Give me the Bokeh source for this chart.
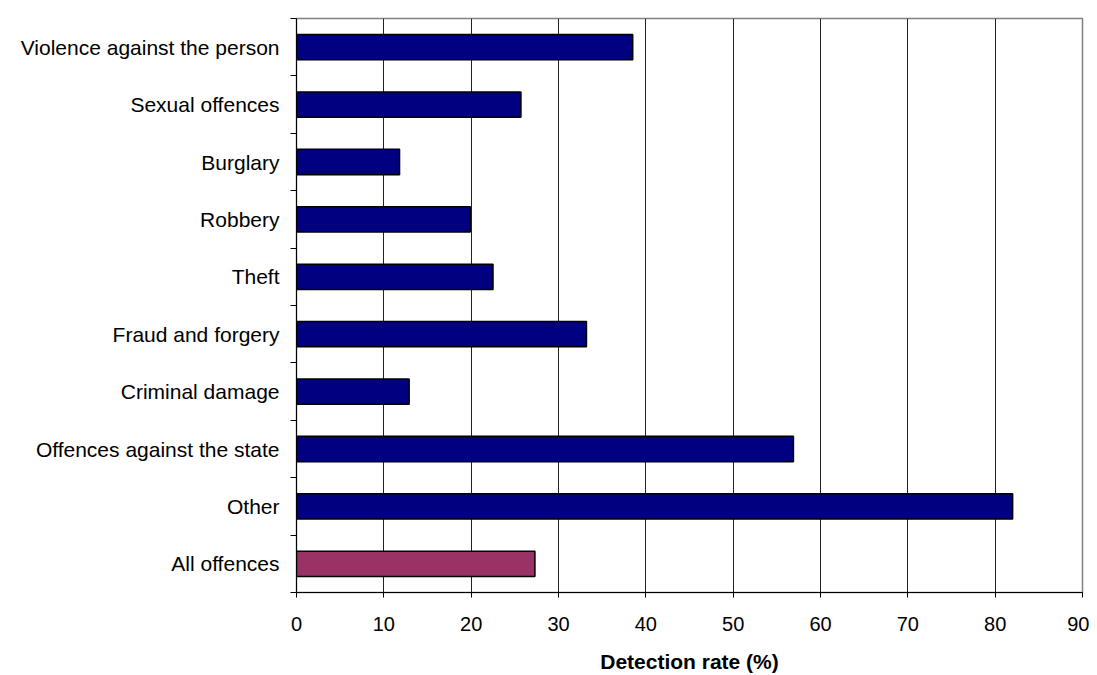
from bokeh.plotting import figure
from bokeh.models import ColumnDataSource, FixedTicker, Range1d
from bokeh.embed import file_html
from bokeh.resources import INLINE

categories = [
    "Violence against the person",
    "Sexual offences",
    "Burglary",
    "Robbery",
    "Theft",
    "Fraud and forgery",
    "Criminal damage",
    "Offences against the state",
    "Other",
    "All offences",
]
values = [38.5, 25.7, 11.8, 19.9, 22.5, 33.2, 12.9, 56.9, 82.0, 27.3]
bar_colors = ["#000080"] * 9 + ["#993366"]
x_ticks = [0, 10, 20, 30, 40, 50, 60, 70, 80, 90]
x_label = "Detection rate (%)"

n = len(categories)
ypos = [n - i - 0.5 for i in range(n)]

src = ColumnDataSource(dict(y=ypos, v=values, c=bar_colors, cat=categories))

FONT = "Liberation Sans"

p = figure(
    width=1089, height=675,
    x_range=Range1d(0, 90), y_range=Range1d(0, n),
    output_backend="svg", toolbar_location=None,
    min_border_left=296, min_border_right=7, min_border_top=18, min_border_bottom=83,
)
p.background_fill_color = "white"
p.border_fill_color = "white"
p.outline_line_color = "#808080"
p.outline_line_width = 1.5

p.hbar(y="y", left=0, right="v", height=0.44, fill_color="c",
       line_color="black", line_width=1.5, source=src)

# x axis
p.xaxis.ticker = FixedTicker(ticks=x_ticks)
p.xaxis.axis_label = x_label
p.xaxis.axis_label_text_font = FONT
p.xaxis.axis_label_text_font_style = "bold"
p.xaxis.axis_label_text_font_size = "21px"
p.xaxis.axis_label_text_color = "black"
p.xaxis.axis_label_standoff = 16
p.xaxis.major_label_text_font = FONT
p.xaxis.major_label_text_font_size = "20px"
p.xaxis.major_label_text_color = "black"
p.xaxis.major_label_standoff = 19
p.xaxis.major_tick_in = 0
p.xaxis.major_tick_out = 5
p.xaxis.minor_tick_line_color = None
p.xaxis.axis_line_color = "black"
p.xaxis.major_tick_line_color = "black"

# y axis: labels at category centres, ticks between categories
p.yaxis.ticker = FixedTicker(ticks=ypos, minor_ticks=list(range(n + 1)))
p.yaxis.major_label_overrides = {y: c for y, c in zip(ypos, categories)}
p.yaxis.major_label_text_font = FONT
p.yaxis.major_label_text_font_size = "21px"
p.yaxis.major_label_text_color = "black"
p.yaxis.major_tick_in = 0
p.yaxis.major_tick_out = 0
p.yaxis.minor_tick_in = 0
p.yaxis.minor_tick_out = 6
p.yaxis.minor_tick_line_color = "black"
p.yaxis.major_label_standoff = 11
p.yaxis.axis_line_color = "black"

# grid
p.ygrid.grid_line_color = None
p.xgrid.ticker = FixedTicker(ticks=x_ticks[1:-1])
p.xgrid.grid_line_color = "#222222"
p.xgrid.grid_line_width = 1

open("out.html", "w").write(file_html(p, INLINE))
